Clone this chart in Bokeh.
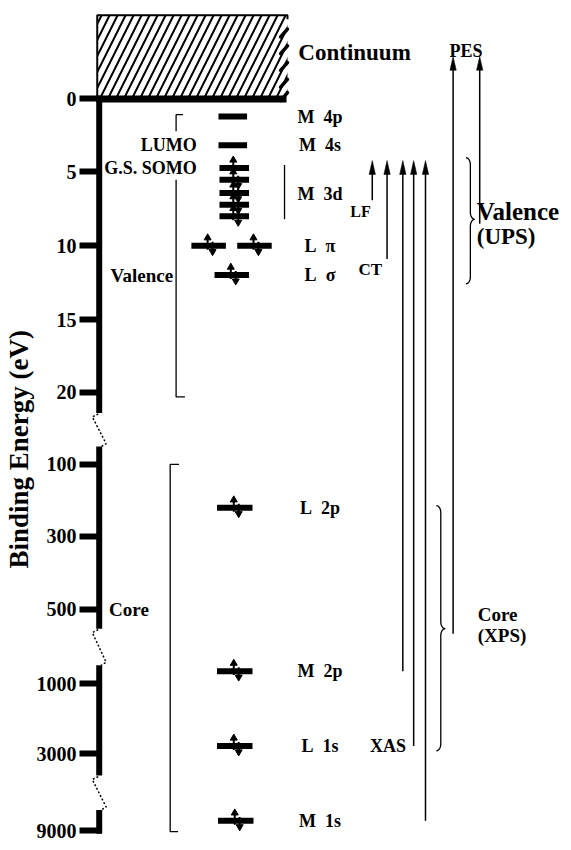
import numpy as np
from bokeh.plotting import figure
from bokeh.models import Range1d, LinearAxis, FixedTicker, Title
from bokeh.core.properties import value
from bokeh.embed import file_html
from bokeh.resources import INLINE

# ---------------- data (binding energies, eV) ----------------
tick_energies = [0, 5, 10, 15, 20, 100, 300, 500, 1000, 3000, 9000]
tick_labels = ["0", "5", "10", "15", "20", "100", "300", "500", "1000", "3000", "9000"]

# visible pieces of the broken energy axis
axis_pieces = [(0, 21.4), (51, 554), (745, 4220), (6500, 9000)]

# orbital levels
level_E = [1.2, 3.15, 4.7, 5.5, 6.4, 7.2, 8.0, 10.0, 10.0, 12.0, 220, 818, 2650, 7710]
level_occ = [0, 0, 1, 2, 2, 2, 2, 2, 2, 2, 2, 2, 2, 2]

NB = "\u00a0"
orbital_names = ["M" + NB * 2 + "4p", "M" + NB * 2 + "4s", "M" + NB * 2 + "3d",
                 "L" + NB * 2 + "π", "L" + NB * 2 + "σ", "L" + NB * 2 + "2p",
                 "M" + NB * 2 + "2p", "L" + NB * 2 + "1s", "M" + NB * 2 + "1s"]
orbital_label_E = [1.2, 3.15, 6.5, 10.0, 12.0, 220, 818, 2650, 7710]

left_names = ["LUMO", "G.S. SOMO", "Valence", "Core"]
left_E = [3.15, 4.7, 12.0, 500]

# transitions (arrow from initial level up to final state)
trans_from_E = [6.9, 10.9, 818, 2650, 7710, 568, 8.5]
trans_to_E = [4.2, 4.2, 4.2, 4.2, 4.2, -2.9, -2.9]
trans_names = ["LF", "CT", "XAS", "PES"]
trans_label_E = [7.7, 11.6, 2650, -3.3]

continuum_E = (-5.7, 0)

# ---------------- layout ----------------
def ey(E):
    """binding energy -> drawing coordinate (broken axis)"""
    E = float(E)
    if E <= 40:
        return 100 + E * (398 - 100) / 20.0
    if E <= 650:
        return 471 + (E - 100) * (618 - 471) / 400.0
    k = (765 - 694) / np.log10(3.0)
    if E <= 5000:
        return 694 + k * np.log10(E / 1000.0)
    return 843 + k * np.log10(E / 9000.0)

FONT = value("Liberation Serif")
AX_X = 100

p = figure(width=563, height=842, output_backend="svg", toolbar_location=None,
           x_range=Range1d(80, 571), y_range=Range1d(855, 0),
           x_axis_type=None, y_axis_type=None,
           min_border_left=79, min_border_right=0, min_border_top=0, min_border_bottom=0)
p.outline_line_color = None
p.background_fill_color = "white"

# axis with ticks and labels
tick_y = [int(round(ey(e))) for e in tick_energies]
yax = LinearAxis(ticker=FixedTicker(ticks=tick_y),
                 major_label_overrides={y: l for y, l in zip(tick_y, tick_labels)})
yax.axis_line_color = None
yax.major_tick_in = 21
yax.major_tick_out = 0
yax.major_tick_line_width = 6
yax.major_tick_line_color = "black"
yax.minor_tick_line_color = None
yax.major_label_standoff = 3
yax.major_label_text_font = "Liberation Serif"
yax.major_label_text_font_style = "bold"
yax.major_label_text_font_size = "20px"
yax.major_label_text_color = "black"
p.add_layout(yax, "left")

# axis title
p.add_layout(Title(text="Binding Energy (eV)", align="left", offset=274, standoff=0,
                   text_font="Liberation Serif", text_font_style="bold",
                   text_font_size="27px", text_color="black"), "left")

# broken axis pieces
p.segment(x0=[AX_X] * len(axis_pieces), y0=[ey(a) for a, b in axis_pieces],
          x1=[AX_X] * len(axis_pieces), y1=[ey(b) + (3 if b == 9000 else 0) for a, b in axis_pieces],
          line_width=6, line_color="black", line_cap="butt")
# dotted break marks
for (a0, b0), (a1, b1) in zip(axis_pieces[:-1], axis_pieces[1:]):
    y_end, y_start = ey(b0), ey(a1)
    p.line([AX_X - 1, AX_X - 7, AX_X + 7, AX_X + 2],
           [y_end + 1, y_end + 4, y_start - 3, y_start],
           line_width=1.5, line_dash="2 2", line_color="black")

# continuum box
ytop, ybot = ey(continuum_E[0]), ey(continuum_E[1])
p.quad(left=98, right=291, top=ytop, bottom=ybot, fill_color=None, line_color=None,
       hatch_pattern="/", hatch_scale=16, hatch_weight=2, hatch_color="black")
p.line([98, 98, 291, 291], [ybot, ytop, ytop, ytop + 4], line_width=2, line_color="black")
ys = [ytop + (ybot - ytop) * f for f in (0.2, 0.4, 0.6, 0.8, 0.96)]
p.segment(x0=[284] * 5, y0=[y + 5 for y in ys], x1=[291] * 5, y1=[y - 3 for y in ys],
          line_width=3.5, line_color="black", line_cap="round")
# zero line
p.segment(x0=[AX_X - 3], y0=[ey(0)], x1=[290], y1=[ey(0)], line_width=7, line_color="black")
p.text(x=[302], y=[ey(-3.15)], text=["Continuum"], text_font=FONT, text_font_style="bold",
       text_font_size="23px", text_baseline="middle", text_align="left")

# levels
cx = [235.5, 235.5, 237, 237, 237, 237, 237, 211, 257.5, 234.5, 237.5, 237.5, 237.5, 238.5]
hw = [14.5, 14.5, 15, 15, 15, 15, 15, 17.5, 17.5, 17.5, 18, 18, 18, 18]
ly = [ey(e) for e in level_E]
p.segment(x0=[c - h for c, h in zip(cx, hw)], y0=ly, x1=[c + h for c, h in zip(cx, hw)], y1=ly,
          line_width=6, line_color="black", line_cap="butt")

up_x, up_y, dn_x, dn_y = [], [], [], []
for c, y, n in zip(cx, ly, level_occ):
    if n >= 1:
        up_x.append(c - 1); up_y.append(y)
    if n == 2:
        dn_x.append(c + 4); dn_y.append(y)
p.segment(x0=up_x, y0=[y + 4 for y in up_y], x1=up_x, y1=[y - 7 for y in up_y],
          line_width=2, line_color="black")
p.scatter(up_x, [y - 8 for y in up_y], marker="triangle", size=7, color="black")
p.segment(x0=dn_x, y0=[y - 4 for y in dn_y], x1=dn_x, y1=[y + 5 for y in dn_y],
          line_width=2, line_color="black")
p.scatter(dn_x, [y + 6 for y in dn_y], marker="inverted_triangle", size=7, color="black")

# orbital labels
p.text(x=[324] * len(orbital_names), y=[ey(e) for e in orbital_label_E], text=orbital_names,
       text_font=FONT, text_font_style="bold", text_font_size="18px",
       text_baseline="middle", text_align="center")
# left labels
p.text(x=[199, 199, 175], y=[ey(e) for e in left_E[:3]], text=left_names[:3],
       text_font=FONT, text_font_style="bold", text_font_size=["18px", "18px", "19px"],
       text_baseline="middle", text_align="right")
p.text(x=[110], y=[ey(left_E[3])], text=[left_names[3]],
       text_font=FONT, text_font_style="bold", text_font_size="19px",
       text_baseline="middle", text_align="left")

# square brackets
bx = 178
p.line([bx + 7, bx, bx], [ey(1.07), ey(1.07), ey(2.2)], line_width=1.3, line_color="black")
p.line([bx, bx, bx + 9], [ey(5.5), ey(20.3), ey(20.3)], line_width=1.3, line_color="black")
cbx = 172
p.line([cbx + 9, cbx, cbx, cbx + 8], [ey(100), ey(100), ey(9000) + 1, ey(9000) + 1],
       line_width=1.3, line_color="black")
p.line([288, 288], [ey(4.5), ey(8.2)], line_width=1.3, line_color="black")

# transition arrows
tx = [377, 392, 408, 419, 431, 459, 486]
y0s = [ey(e) for e in trans_from_E]
y1s = [ey(e) for e in trans_to_E]
p.segment(x0=tx, y0=y0s, x1=tx, y1=[y + 10 for y in y1s], line_width=1.5, line_color="black")
p.patches(xs=[[x, x - 3.2, x + 3.2] for x in tx], ys=[[y, y + 14, y + 14] for y in y1s],
          fill_color="black", line_color="black", line_width=0.5)
p.text(x=[365, 375, 393, 472], y=[ey(e) for e in trans_label_E], text=trans_names,
       text_font=FONT, text_font_style="bold", text_font_size=["16px", "17px", "18px", "18px"],
       text_baseline="middle", text_align="center")

# curly braces
def brace(x0, yt, ym, yb, d=4.5, r=7.0):
    xs, ys = [], []
    t = np.linspace(0, np.pi / 2, 8)
    xs += list(x0 + d * np.sin(t)); ys += list(yt + r * (1 - np.cos(t)))
    xs += list(x0 + d + d * (1 - np.cos(t))); ys += list(ym - r + r * np.sin(t))
    t2 = t[::-1]
    xs += list(x0 + d + d * (1 - np.cos(t2))); ys += list(ym + r - r * np.sin(t2))
    xs += list(x0 + d * np.sin(t2)); ys += list(yb - r * (1 - np.cos(t2)))
    return xs, ys

bxs, bys = brace(472, ey(4.0), ey(8.2), ey(12.6))
p.line(bxs, bys, line_width=1.3, line_color="black")
cxs, cys = brace(442, ey(214), ey(554), ey(2860))
p.line(cxs, cys, line_width=1.3, line_color="black")

p.text(x=[483, 483], y=[ey(7.7), ey(9.4)], text=["Valence", "(UPS)"],
       text_font=FONT, text_font_style="bold", text_font_size=["25px", "23px"],
       text_baseline="middle", text_align="left")
p.text(x=[484, 484], y=[623, 645], text=["Core", "(XPS)"],
       text_font=FONT, text_font_style="bold", text_font_size="19px",
       text_baseline="middle", text_align="left")

open("out.html", "w").write(file_html(p, INLINE))
